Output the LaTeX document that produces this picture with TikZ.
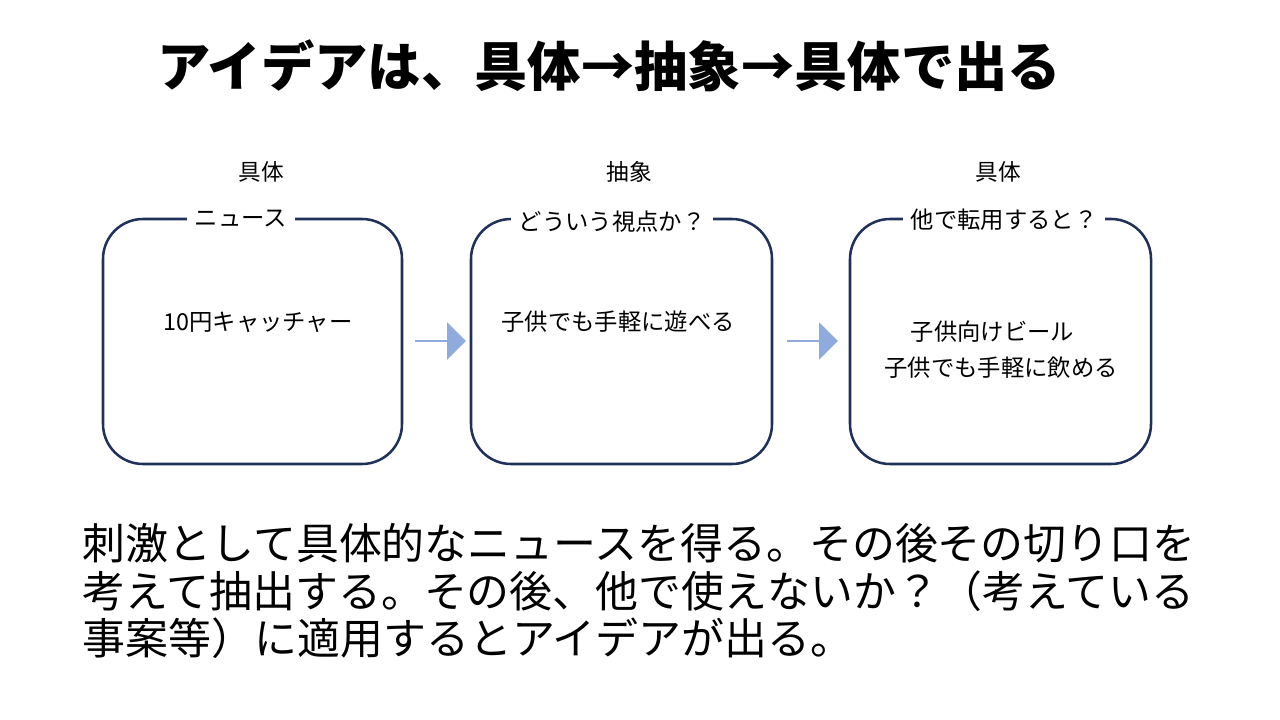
\documentclass[tikz,border=0pt]{standalone}
\usepackage{fontspec}
\setmainfont{Noto Sans CJK JP}
\usetikzlibrary{shapes.arrows}
\definecolor{boxline}{HTML}{1F3059}
\definecolor{arrowblue}{HTML}{8FAADC}
\tikzset{
  stepbox/.style={draw=boxline,line width=1.9pt,rounded corners=30pt},
  head/.style={font=\fontsize{17}{20}\selectfont},
  tag/.style={fill=white,inner xsep=6pt,inner ysep=1pt,font=\fontsize{17.5}{20}\selectfont},
  body/.style={font=\fontsize{17.5}{20}\selectfont},
  flow/.style={single arrow,fill=arrowblue,draw=none,minimum height=38pt,minimum width=28pt,
    single arrow head extend=4pt,inner sep=0pt,single arrow tip angle=90},
  para/.style={anchor=west,font=\fontsize{32.2}{36}\selectfont}
}
\begin{document}
\begin{tikzpicture}[x=0.75pt,y=-0.75pt]
  \useasboundingbox (0,0) rectangle (1280,720);
  \node[font=\fontsize{40}{44}\bfseries\selectfont] (title) at (609,66) {アイデアは、具体→抽象→具体で出る};
  % heads
  \node[head] (h1) at (261,172) {具体};
  \node[head] (h2) at (629,172) {抽象};
  \node[head] (h3) at (998,172) {具体};
  % boxes
  \draw[stepbox] (103,219) rectangle (402,464);
  \draw[stepbox] (471,219) rectangle (772,464);
  \draw[stepbox] (850,219) rectangle (1151,464);
  \node[tag] (t1) at (241,219) {ニュース};
  \node[tag] (t2) at (612,222) {どういう視点か？};
  \node[tag] (t3) at (1004,220) {他で転用すると？};
  \node[body] (b1) at (258,322) {10円キャッチャー};
  \node[body] (b2) at (618,322) {子供でも手軽に遊べる};
  \node[body,anchor=west] (b3) at (906,332) {子供向けビール};
  \node[body] (b4) at (1001,368) {子供でも手軽に飲める};
  % arrows
  \node[flow] (a1) at (440,341) {};
  \node[flow] (a2) at (812,341) {};
  % text
  \node[para] (p1) at (78,543) {刺激として具体的なニュースを得る。その後その切り口を};
  \node[para] (p2) at (78,591) {考えて抽出する。その後、他で使えないか？（考えている};
  \node[para] (p3) at (78,638) {事案等）に適用するとアイデアが出る。};
\end{tikzpicture}
\end{document}
